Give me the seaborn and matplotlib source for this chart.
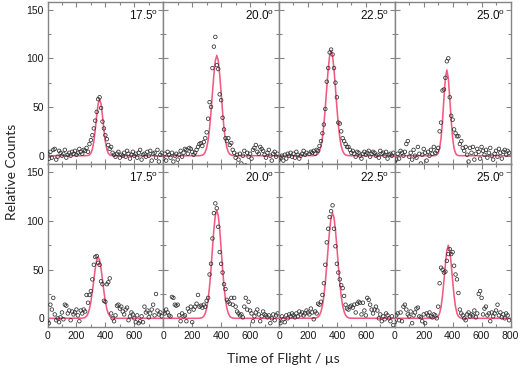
import matplotlib
matplotlib.use('Agg')
import matplotlib.pyplot as plt
import seaborn as sns
from matplotlib.ticker import MultipleLocator

sns.set_style('ticks')
plt.rcParams['font.family'] = ['Liberation Sans', 'DejaVu Sans']
plt.rcParams['mathtext.fontset'] = 'custom'
plt.rcParams['mathtext.rm'] = 'Liberation Sans'

# time-of-flight bins (µs) and nodes of the fitted curves
tof = list(range(0, 800, 10))
fit_tof = [0] + list(range(240, 510, 10)) + [800]

angles = ['17.5', '20.0', '22.5', '25.0']

# upper row of measurements
counts_t1 = [2, -3, 4, -2, 6, 7, -4, -1, 5, 3, 0, 2, 6, -2, 1, 3, 0, 4, 2, 5,
             1, 3, 7, 4, 2, 6, 5, 8, 4,
             12, 16, 21, 28, 36, 45, 58, 60, 49, 35, 28, 21, 17, 11, 7, 9, 3, 1, -1,
             2, 4, -2, 1, 0, 3, -1, 5, 2, -3, 1, 4, 0, 2, -2, 3, 6, -4, 1, 2,
             -1, 4, 0, 5, -5, 2, 3, -2, 6, -6, 1, 3]
counts_t2 = [-3, 2, -5, 4, 1, -2, 3, -6, 0, 2, -4, 1, 5, -1, 3, 7, 6, 2, 8, 7,
             4, 1, 3, 6, 9, 12,
             13, 10, 14, 18, 24, 38, 55, 50, 90, 112, 122, 93, 89, 63, 57, 39, 27,
             18, 15, 18, 11, 13, 6, 3, -2,
             1, -4, 2, -8, 0, 5, -10, 3, -1, 2, -3, 6, 8, 11, 4, 2, 9, 7, 5, 1,
             -2, 3, 6, 0, -5, 2, 4, -1, 2]
counts_t3 = [-4, -2, 0, -5, 1, -3, 2, 0, 3, -1, 2, -2, 4, 1, -3, 0, 2, 5, 1, 3,
             -10, 2, 4, 3, 5, 2, 6,
             5, 10, 15, 23, 32, 48, 76, 90, 106, 109, 104, 90, 75, 60, 34, 33, 25,
             18, 15, 12, 9, 9, 6, 3,
             5, 2, -1, 4, 3, 0, -3, 2, 4, 1, 3, 5, -1, 2, 4, 3, 0, 1, -2, 5,
             2, 3, 0, 4, -3, 1, 2, 0, 3]
counts_t4 = [-6, -4, 2, -3, 5, 3, 0, 4, 12, 15, -1, 3, -4, 6, 0, -2, 9, 2, -8, 1,
             7, 3, -5, 4, 0, 6, 2, 9, 3, 5,
             8, 25, 34, 67, 68, 80, 97, 100, 60, 41, 37, 27, 23, 20, 20, 12, 15, 8, 5,
             9, 1, -6, 8, 3, 9, -4, 2, 7, 4, -3, 9, 5, 1, 6, -2, 3, 8, 0, -4,
             2, 5, -1, 7, 3, -3, 4, 6, 1, 5, 3]

# lower row of measurements
counts_b1 = [-3, -5, 14, 9, 21, 4, -2, 0, -4, 1, 6, -1, 14, 13, 5, 8, -2, 7, 4, 6,
             9, 3, -3, 8, 5, 9, 7, 24,
             16, 24, 28, 40, 55, 63, 64, 57, 55, 38, 35, 18, 17, 35, 37, 41, 5, 0, -3,
             3, 13, 14, 10, 12, 7, 4, 9, 11, -2, 2, 6, 4, 0, -4, 3, -5, -3, 2, -4,
             12, 6, 8, 1, 5, 9, 14, 3, 25, 8, 4, 6, 2]
counts_b2 = [7, 5, 9, 6, 3, 2, 22, 21, 14, 13, 14, 3, -3, 5, 2, 3, -3, 10, 7, 12,
             -4, 9, 12, 15, 24, 12, 13, 11, 14, 12, 18,
             21, 45, 56, 82, 108, 118, 113, 94, 68, 56, 47, 35, 30, 19, 17, 15, 21,
             14, 21, 12,
             7, 5, 3, 4, 1, 12, 21, 9, 17, 8, 5, -3, 2, 6, 9, 4, -3, 2, 7, 4,
             3, 1, 3, -5, 0, 4, -2, 3, 5]
counts_b3 = [-3, -5, 2, -1, -4, 3, 0, 4, 2, 5, 3, 1, 5, 2, 7, 4, 6, 3, 5, 8,
             6, 4, 10, 6, -1, 7, 5, 15,
             14, 17, 24, 36, 55, 78, 92, 104, 110, 116, 92, 74, 56, 47, 40, 34, 31,
             23, 14, 10, 9, 12, 13,
             11, 14, 6, 15, 17, 16, 4, 16, 8, 3, 21, 19, 14, 9, 5, 9, 12, 8, 0, 4,
             -3, 2, -1, 5, 3, 0, -3, 2, -7]
counts_b4 = [-4, 3, 5, -2, 6, -3, 12, 14, 9, 4, 2, 7, -5, 3, 6, 10, 11, 2, 1, -3,
             4, -5, 5, 3, 6, 2, 1, 4, 3, 0,
             12, 36, 52, 50, 47, 48, 59, 66, 71, 66, 68, 54, 45, 40, 26, 9, 5, 3, 0,
             -2, 4, 6, 2, 4, 3, 8, 1, 5, 25, 28, 21, 4, 10, 12, 3, 5, -3, 6, 2,
             5, 8, 14, 3, 6, 1, 4, 0, 5, 3, -2]

# fitted curves read at fit_tof
fit_t1 = [0, 0, 0, 0, 0.1, 0.2, 0.8, 2.6, 6.6, 14.4, 26.6, 41.0, 53.2, 58.0, 53.2,
          41.0, 26.6, 14.4, 6.6, 2.6, 0.8, 0.2, 0.1, 0, 0, 0, 0, 0, 0]
fit_t2 = [0, 0, 0, 0.2, 0.6, 1.5, 3.7, 8.0, 15.9, 28.0, 44.8, 64.5, 83.6, 97.7, 103.0,
          97.7, 83.6, 64.5, 44.8, 28.0, 15.9, 8.0, 3.7, 1.5, 0.6, 0.2, 0, 0, 0]
fit_t3 = [0, 0.1, 0.3, 0.8, 2.1, 4.8, 9.8, 18.6, 31.9, 49.5, 69.7, 88.9, 102.8, 108.0,
          102.8, 88.9, 69.7, 49.5, 31.9, 18.6, 9.8, 4.8, 2.1, 0.8, 0.3, 0.1, 0, 0, 0]
fit_t4 = [0, 0, 0, 0, 0, 0.2, 0.7, 2.6, 7.5, 18.1, 36.2, 59.3, 79.7, 88.0, 79.7,
          59.3, 36.2, 18.1, 7.5, 2.6, 0.7, 0.2, 0, 0, 0, 0, 0, 0, 0]
fit_b1 = [0, 0.1, 0.3, 0.9, 2.3, 4.9, 9.7, 17.1, 27.4, 39.4, 51.2, 59.8, 63.0, 59.8,
          51.2, 39.4, 27.4, 17.1, 9.7, 4.9, 2.3, 0.9, 0.3, 0.1, 0, 0, 0, 0, 0]
fit_b2 = [0, 0, 0.1, 0.3, 0.8, 2.1, 4.9, 10.1, 19.1, 32.7, 50.8, 71.6, 91.4, 105.7,
          111.0, 105.7, 91.4, 71.6, 50.8, 32.7, 19.1, 10.1, 4.9, 2.1, 0.8, 0.3, 0.1, 0, 0]
fit_b3 = [0, 0.1, 0.2, 0.5, 1.4, 3.2, 6.8, 13.0, 22.8, 36.6, 54.1, 73.2, 90.8, 103.5,
          108.0, 103.5, 90.8, 73.2, 54.1, 36.6, 22.8, 13.0, 6.8, 3.2, 1.4, 0.5, 0.2, 0.1, 0]
fit_b4 = [0, 0, 0, 0, 0, 0.2, 0.7, 2.0, 5.3, 11.8, 23.0, 38.6, 55.8, 69.7, 75.0,
          69.7, 55.8, 38.6, 23.0, 11.8, 5.3, 2.0, 0.7, 0.2, 0, 0, 0, 0, 0]

counts = [[counts_t1, counts_t2, counts_t3, counts_t4],
          [counts_b1, counts_b2, counts_b3, counts_b4]]
fits = [[fit_t1, fit_t2, fit_t3, fit_t4],
        [fit_b1, fit_b2, fit_b3, fit_b4]]

grey = '#858585'
fig, axes = plt.subplots(2, 4, figsize=(5.22, 3.70), dpi=100)
fig.subplots_adjust(left=0.091, right=0.978, top=0.995, bottom=0.116,
                    wspace=0, hspace=0)

for r in range(2):
    for c in range(4):
        ax = axes[r, c]
        sns.lineplot(x=fit_tof, y=fits[r][c], ax=ax, color='#f25a82', lw=1.15)
        sns.scatterplot(x=tof, y=counts[r][c], ax=ax, marker='o', s=6.5,
                        facecolor='none', edgecolor='#303030', linewidth=0.55,
                        zorder=3)
        ax.set_xlim(0, 800)
        ax.set_ylim(-9, 158)
        ax.set_xticks([0, 200, 400, 600, 800])
        if c == 3:
            ax.set_xticklabels(['0', '200', '400', '600', '800'])
        else:
            ax.set_xticklabels(['0', '200', '400', '600', ''])
        ax.set_yticks([0, 50, 100, 150])
        ax.xaxis.set_minor_locator(MultipleLocator(100))
        ax.yaxis.set_minor_locator(MultipleLocator(25))
        ax.tick_params(which='both', direction='in', top=True, right=True,
                       color=grey, width=0.8, labelsize=7.5,
                       labelcolor='#1a1a1a', pad=2.5)
        ax.tick_params(which='major', length=3.5)
        ax.tick_params(which='minor', length=2)
        ax.tick_params(labelbottom=(r == 1), labelleft=(c == 0))
        for sp in ax.spines.values():
            sp.set_color(grey)
            sp.set_linewidth(1.0)
        ax.text(0.955, 0.915, angles[c] + r'$^{\mathrm{o}}$', transform=ax.transAxes,
                ha='right', va='center', fontsize=8.5, color='#111111')

fig.text(0.023, 0.535, 'Relative Counts', rotation=90, ha='center', va='center',
         fontsize=10, family=['Lato', 'DejaVu Sans'])
fig.text(0.542, 0.030, 'Time of Flight / µs', ha='center', va='center',
         fontsize=10, family=['Lato', 'DejaVu Sans'])

fig.savefig('out.png', dpi=100)
